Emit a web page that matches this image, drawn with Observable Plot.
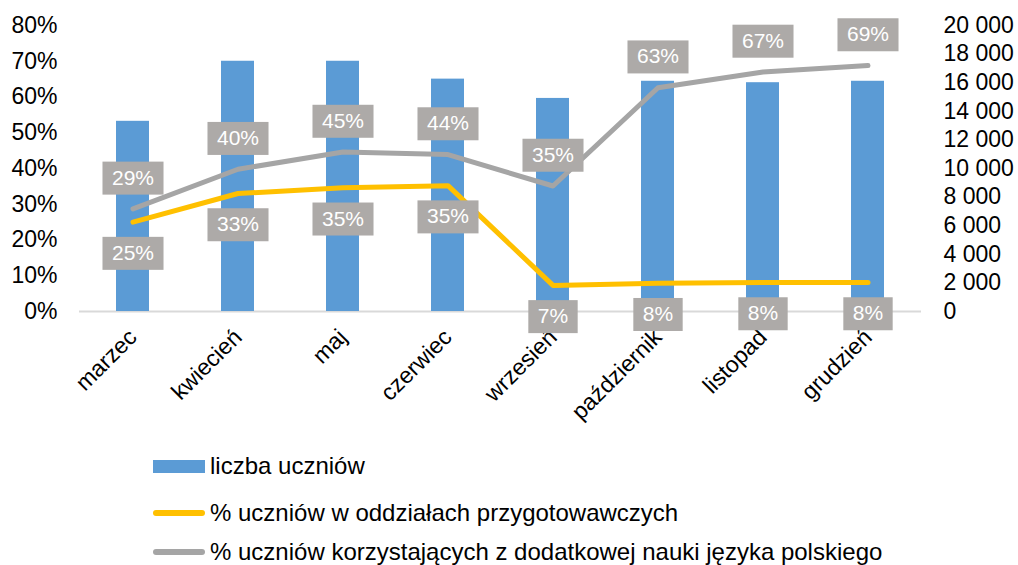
<!DOCTYPE html>
<html>
<head>
<meta charset="utf-8">
<script src="https://cdn.jsdelivr.net/npm/d3@7"></script>
<script src="https://cdn.jsdelivr.net/npm/@observablehq/plot@0.6"></script>
<style>
  html, body { margin: 0; padding: 0; background: #fff; }
  #wrap { position: relative; width: 1018px; height: 565px; overflow: hidden; font-family: "Liberation Sans", Arial, sans-serif; }
  #chart { position: absolute; left: 0; top: 0; }
  .leg { position: absolute; left: 153px; height: 30px; display: flex; align-items: center; font-size: 24px; color: #000; white-space: nowrap; }
  .sw { width: 52px; margin-right: 5px; }
</style>
</head>
<body>
<div id="wrap">
  <div id="chart"></div>
  <div id="legend"></div>
</div>
<script>
const months = ["marzec", "kwiecień", "maj", "czerwiec", "wrzesień", "październik", "listopad", "grudzień"];
const students = [13300, 17500, 17500, 16250, 14900, 16100, 16000, 16100];
const pctPrep = [25, 33, 34.6, 35.2, 7.3, 7.9, 8.1, 8.1];
const pctExtra = [28.7, 39.8, 44.6, 43.9, 35.1, 62.6, 67.0, 68.8];
const leftTicks = [0, 10, 20, 30, 40, 50, 60, 70, 80];
const rightTicks = [0, 2000, 4000, 6000, 8000, 10000, 12000, 14000, 16000, 18000, 20000];
const seriesNames = ["liczba uczniów", "% uczniów w oddziałach przygotowawczych", "% uczniów korzystających z dodatkowej nauki języka polskiego"];
const colors = ["#5b9bd5", "#ffc000", "#a5a5a5"];

const rightMax = 20000, leftMax = 80, k = rightMax / leftMax;
const data = months.map((m, i) => ({month: m, students: students[i], studentsScaled: students[i] / k, prep: pctPrep[i], extra: pctExtra[i]}));
const fmtNum = v => d3.format(",")(v).replace(/,/g, "\u00a0");

const plot = Plot.plot({
  width: 1018,
  height: 440,
  marginLeft: 79,
  marginRight: 97,
  marginTop: 25,
  marginBottom: 129,
  style: {fontFamily: "'Liberation Sans', Arial, sans-serif", fontSize: "23px", color: "#000", background: "transparent"},
  x: {domain: months, paddingInner: 0.686, paddingOuter: 0.343},
  y: {domain: [0, leftMax]},
  marks: [
    Plot.axisX({tickSize: 0, tickRotate: -45, tickPadding: 22, label: null, fontSize: 23}),
    Plot.axisY({anchor: "left", ticks: leftTicks, tickSize: 0, tickPadding: 22, tickFormat: d => d + "%", label: null, fontSize: 23}),
    Plot.axisY({anchor: "right", ticks: rightTicks.map(v => v / k), tickSize: 0, tickPadding: 22, tickFormat: d => fmtNum(Math.round(d * k)), label: null, fontSize: 23, textAnchor: "start"}),
    Plot.ruleY([0], {stroke: "#d9d9d9", strokeWidth: 2}),
    Plot.barY(data, {x: "month", y: "studentsScaled", fill: colors[0]}),
    Plot.line(data, {x: "month", y: "prep", stroke: colors[1], strokeWidth: 5, strokeLinecap: "round", strokeLinejoin: "round"}),
    Plot.line(data, {x: "month", y: "extra", stroke: colors[2], strokeWidth: 5, strokeLinecap: "round", strokeLinejoin: "round"}),
    Plot.text(data, {x: "month", y: "extra", text: d => Math.round(d.extra) + "%", dy: -31, fill: "white", fontSize: 21}),
    Plot.text(data, {x: "month", y: "prep", text: d => Math.round(d.prep) + "%", dy: 31, fill: "white", fontSize: 21})
  ]
});
document.getElementById("chart").appendChild(plot);

// grey label boxes behind data labels
plot.querySelectorAll('g[aria-label="text"] text').forEach(t => {
  const b = t.getBBox();
  const r = document.createElementNS("http://www.w3.org/2000/svg", "rect");
  const padX = 9.5, h = 33;
  const cy = b.y + b.height / 2 + 1;
  r.setAttribute("x", b.x - padX);
  r.setAttribute("y", cy - h / 2);
  r.setAttribute("width", b.width + 2 * padX);
  r.setAttribute("height", h);
  r.setAttribute("fill", "#adaaa8");
  const tr = t.getAttribute("transform");
  if (tr) r.setAttribute("transform", tr);
  t.parentNode.insertBefore(r, t);
});

// legend
const legend = document.getElementById("legend");
const legTops = [451, 498, 537];
seriesNames.forEach((name, i) => {
  const item = document.createElement("div");
  item.className = "leg";
  item.style.top = legTops[i] + "px";
  const sw = document.createElement("div");
  sw.className = "sw";
  if (i === 0) { sw.style.height = "13px"; sw.style.background = colors[0]; }
  else { sw.style.height = "6px"; sw.style.borderRadius = "3px"; sw.style.background = colors[i]; }
  item.appendChild(sw);
  const tx = document.createElement("span");
  tx.textContent = name;
  item.appendChild(tx);
  legend.appendChild(item);
});
</script>
</body>
</html>
